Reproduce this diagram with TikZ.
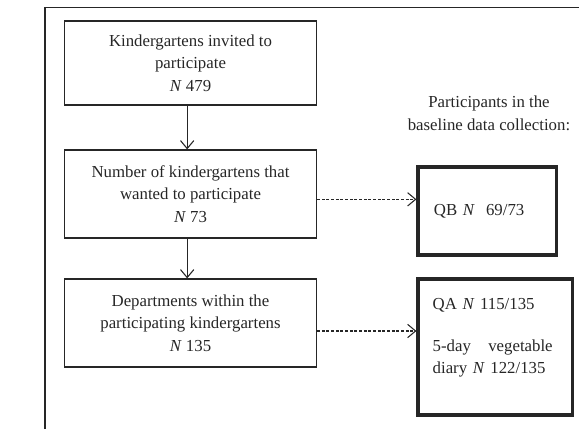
\documentclass[tikz,border=0pt]{standalone}
\usepackage{fontspec}
\setmainfont{Liberation Serif}
\usetikzlibrary{positioning,arrows.meta}

\begin{document}
\begin{tikzpicture}[x=0.75pt, y=-0.75pt, black!85,
	stage/.style={draw, line width=0.9pt, minimum width=189pt, minimum height=66pt, align=center, font=\fontsize{12.6}{17}\selectfont},
	result/.style={draw, line width=2.3pt, inner xsep=12pt, align=left, font=\fontsize{12.6}{17}\selectfont},
	flow/.style={-{Straight Barb[length=6pt,width=10pt]}, line width=0.8pt},
	link/.style={flow, dash pattern=on 2.2pt off 1.3pt}]
						\useasboundingbox (0,0) rectangle (579,429);
						\draw[line width=0.8pt] (45,429) -- (45,7.5) -- (579,7.5);

						\node[stage, minimum height=63pt] (invited) at (190.5,63) {Kindergartens invited to\\ participate\\ \textit{N} 479};
						\node[stage] (wanted) at (190.5,194) {Number of kindergartens that\\ wanted to participate\\ \textit{N} 73};
						\node[stage] (depts) at (190.5,323) {Departments within the\\ participating kindergartens\\ \textit{N} 135};

						\node[align=center, font=\fontsize{12.6}{17}\selectfont] (heading) at (489,113) {Participants in the\\ baseline data collection:};
						\node[result, text width=80pt, minimum height=66pt] (qb) at (487.3,211) {QB \textit{N}~ 69/73};
						\node[result, minimum width=116pt, minimum height=102pt] (qa) at (495.3,347) {};
						\node[anchor=north west, align=left, text width=90pt, inner sep=0pt, font=\fontsize{12.6}{16.5}\selectfont] (qatext) at ([xshift=12pt,yshift=-15.5pt]qa.north west) {QA \textit{N} 115/135\\[15pt] 5-day\hfill vegetable\\ \mbox{diary \textit{N} 122/135}};

						\draw[flow] ([xshift=-2.5pt]invited.south) -- ([xshift=-2.5pt]wanted.north);
						\draw[flow] ([xshift=-2.5pt]wanted.south) -- ([xshift=-2.5pt]depts.north);
						\draw[link] ([yshift=-4pt]wanted.east) -- ([yshift=-4pt]wanted.east -| qb.west);
						\draw[link] ([yshift=-6pt]depts.east) -- ([yshift=-6pt]depts.east -| qa.west);

					\end{tikzpicture}
\end{document}
